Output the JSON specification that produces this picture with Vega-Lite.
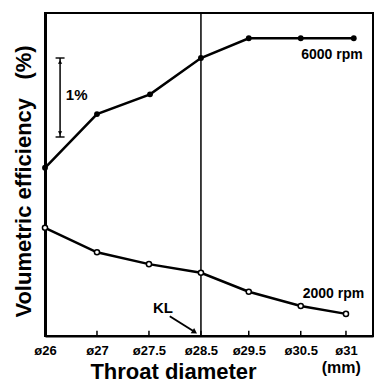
{
  "$schema": "https://vega.github.io/schema/vega-lite/v6.json",
  "width": 328,
  "height": 323,
  "autosize": "none",
  "padding": {"left": 45, "top": 13, "right": 11, "bottom": 48},
  "background": "white",
  "config": {
    "view": {"stroke": "black", "strokeWidth": 2},
    "font": "Liberation Sans"
  },
  "datasets": {
    "curves": [
      {"series": "6000 rpm", "pos": 0, "eff": 2.13},
      {"series": "6000 rpm", "pos": 1, "eff": 2.81},
      {"series": "6000 rpm", "pos": 2.02, "eff": 3.06},
      {"series": "6000 rpm", "pos": 3, "eff": 3.52},
      {"series": "6000 rpm", "pos": 3.92, "eff": 3.77},
      {"series": "6000 rpm", "pos": 4.92, "eff": 3.77},
      {"series": "6000 rpm", "pos": 5.94, "eff": 3.77},
      {"series": "2000 rpm", "pos": 0, "eff": 1.37},
      {"series": "2000 rpm", "pos": 1, "eff": 1.06},
      {"series": "2000 rpm", "pos": 2, "eff": 0.91},
      {"series": "2000 rpm", "pos": 3, "eff": 0.80},
      {"series": "2000 rpm", "pos": 3.92, "eff": 0.56},
      {"series": "2000 rpm", "pos": 4.92, "eff": 0.38},
      {"series": "2000 rpm", "pos": 5.79, "eff": 0.28}
    ],
    "ticks": [
      {"pos": 0, "lo": 0, "hi": 0.065},
      {"pos": 1, "lo": 0, "hi": 0.065},
      {"pos": 2, "lo": 0, "hi": 0.065},
      {"pos": 3, "lo": 0, "hi": 0.065},
      {"pos": 3.92, "lo": 0, "hi": 0.065},
      {"pos": 4.92, "lo": 0, "hi": 0.065},
      {"pos": 5.79, "lo": 0, "hi": 0.065}
    ],
    "notes": [
      {"label": "6000 rpm", "pos": 5.52, "eff": 3.56, "big": 14},
      {"label": "2000 rpm", "pos": 5.55, "eff": 0.53, "big": 14},
      {"label": "1%", "pos": 0.61, "eff": 3.05, "big": 15},
      {"label": "KL", "pos": 2.27, "eff": 0.35, "big": 15},
      {"label": "(mm)", "pos": 5.7, "eff": -0.405, "big": 16}
    ]
  },
  "layer": [
    {
      "data": {"name": "curves"},
      "mark": {"type": "line", "color": "black", "strokeWidth": 2.5},
      "encoding": {
        "x": {
          "field": "pos", "type": "quantitative",
          "scale": {"domain": [0, 6.31], "nice": false, "zero": false},
          "axis": {
            "values": [0, 1, 2, 3, 3.92, 4.92, 5.79],
            "labelExpr": "datum.value < 0.5 ? 'ø26' : datum.value < 1.5 ? 'ø27' : datum.value < 2.5 ? 'ø27.5' : datum.value < 3.5 ? 'ø28.5' : datum.value < 4.5 ? 'ø29.5' : datum.value < 5.5 ? 'ø30.5' : 'ø31'",
            "labelFontSize": 13,
            "labelFontWeight": "bold",
            "labelColor": "black",
            "labelPadding": 8,
            "labelFlush": false,
            "labelOverlap": false,
            "ticks": false,
            "domainColor": "black",
            "domainWidth": 2,
            "grid": false,
            "title": "Throat diameter",
            "titleFontSize": 22,
            "titleFontWeight": "bold",
            "titleColor": "black",
            "titleX": 128,
            "titleY": 35,
            "titleAlign": "center",
            "titleBaseline": "middle"
          }
        },
        "y": {
          "field": "eff", "type": "quantitative",
          "scale": {"domain": [0, 4.09], "nice": false, "zero": false},
          "axis": {
            "labels": false,
            "ticks": false,
            "grid": false,
            "domainColor": "black",
            "domainWidth": 3,
            "title": "Volumetric efficiency\u00a0\u00a0\u00a0(%)",
            "titleFontSize": 22,
            "titleFontWeight": "bold",
            "titleColor": "black",
            "titleAngle": -90,
            "titleX": -22,
            "titleY": 168,
            "titleAlign": "center",
            "titleBaseline": "middle"
          }
        },
        "detail": {"field": "series", "type": "nominal"}
      }
    },
    {
      "data": {"values": [{"pos": 3}]},
      "mark": {"type": "rule", "color": "black", "strokeWidth": 1.5},
      "encoding": {
        "x": {"field": "pos", "type": "quantitative"}
      }
    },
    {
      "data": {"name": "ticks"},
      "mark": {"type": "rule", "color": "black", "strokeWidth": 1.5},
      "encoding": {
        "x": {"field": "pos", "type": "quantitative"},
        "y": {"field": "lo", "type": "quantitative"},
        "y2": {"field": "hi"}
      }
    },
    {
      "data": {"name": "curves"},
      "transform": [{"filter": "datum.series == '6000 rpm'"}],
      "mark": {"type": "point", "filled": true, "color": "black", "size": 34, "opacity": 1},
      "encoding": {
        "x": {"field": "pos", "type": "quantitative"},
        "y": {"field": "eff", "type": "quantitative"}
      }
    },
    {
      "data": {"name": "curves"},
      "transform": [{"filter": "datum.series == '2000 rpm'"}],
      "mark": {"type": "point", "filled": true, "fill": "white", "stroke": "black", "strokeWidth": 1.5, "size": 26, "opacity": 1},
      "encoding": {
        "x": {"field": "pos", "type": "quantitative"},
        "y": {"field": "eff", "type": "quantitative"}
      }
    },
    {
      "data": {"values": [{"pos": 0.29, "top": 3.52, "bottom": 2.52}]},
      "mark": {"type": "rule", "color": "black", "strokeWidth": 1.5},
      "encoding": {
        "x": {"field": "pos", "type": "quantitative"},
        "y": {"field": "top", "type": "quantitative"},
        "y2": {"field": "bottom"}
      }
    },
    {
      "data": {"values": [{"pos": 0.29, "eff": 3.52}, {"pos": 0.29, "eff": 2.52}]},
      "mark": {"type": "tick", "orient": "horizontal", "color": "black", "size": 9, "thickness": 2},
      "encoding": {
        "x": {"field": "pos", "type": "quantitative"},
        "y": {"field": "eff", "type": "quantitative"}
      }
    },
    {
      "data": {"values": [{"pos": 0.29, "eff": 3.47, "dir": "triangle-up"}, {"pos": 0.29, "eff": 2.57, "dir": "triangle-down"}]},
      "mark": {"type": "point", "filled": true, "color": "black", "size": 18, "opacity": 1},
      "encoding": {
        "x": {"field": "pos", "type": "quantitative"},
        "y": {"field": "eff", "type": "quantitative"},
        "shape": {"field": "dir", "type": "nominal", "scale": null}
      }
    },
    {
      "data": {"values": [{"pos": 2.4, "eff": 0.25, "pos2": 2.86, "eff2": 0.06}]},
      "mark": {"type": "rule", "color": "black", "strokeWidth": 2},
      "encoding": {
        "x": {"field": "pos", "type": "quantitative"},
        "y": {"field": "eff", "type": "quantitative"},
        "x2": {"field": "pos2"},
        "y2": {"field": "eff2"}
      }
    },
    {
      "data": {"values": [{"pos": 2.88, "eff": 0.05}]},
      "mark": {"type": "point", "shape": "triangle-right", "angle": 33, "filled": true, "color": "black", "size": 40, "opacity": 1},
      "encoding": {
        "x": {"field": "pos", "type": "quantitative"},
        "y": {"field": "eff", "type": "quantitative"}
      }
    },
    {
      "data": {"name": "notes"},
      "mark": {"type": "text", "fontWeight": "bold", "color": "black", "align": "center", "baseline": "middle", "clip": false},
      "encoding": {
        "x": {"field": "pos", "type": "quantitative"},
        "y": {"field": "eff", "type": "quantitative"},
        "text": {"field": "label", "type": "nominal"},
        "size": {"field": "big", "type": "quantitative", "scale": null}
      }
    }
  ]
}
